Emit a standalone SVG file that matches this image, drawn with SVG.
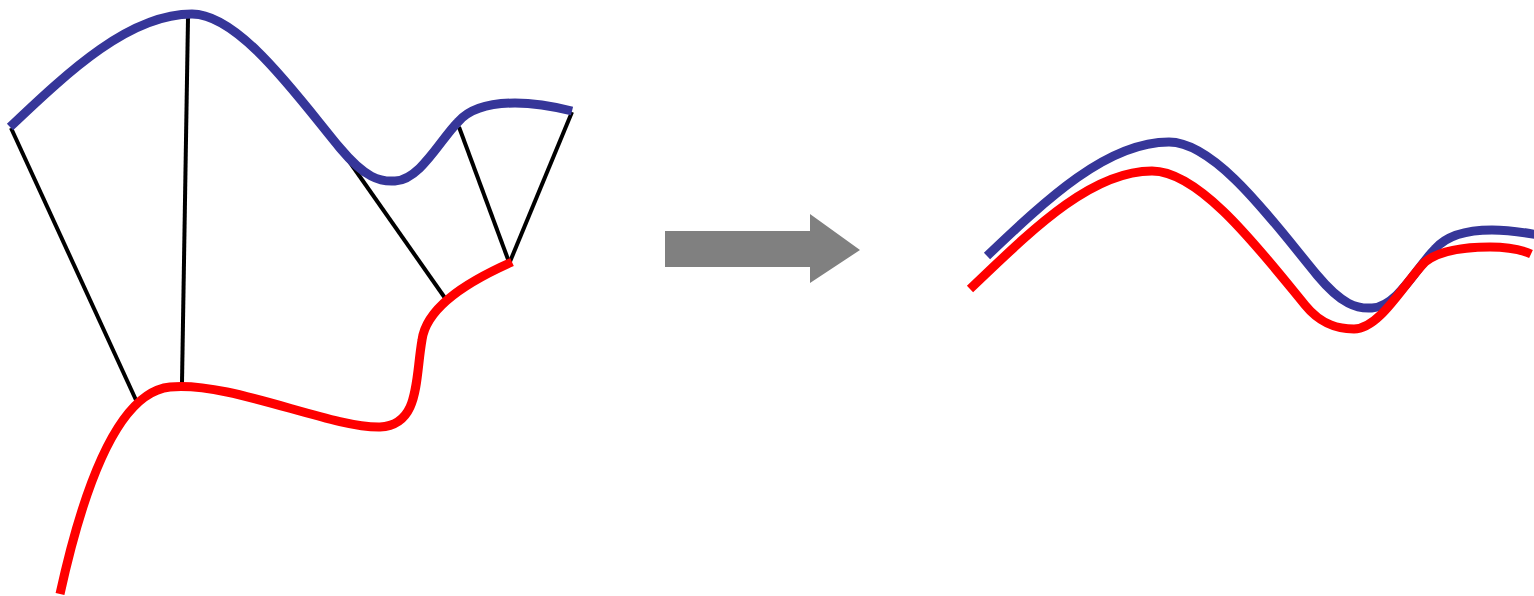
<svg xmlns="http://www.w3.org/2000/svg" width="1534" height="596" viewBox="0 0 1534 596">
<style>
.blue{fill:none;stroke:#363699;stroke-width:9;stroke-linecap:butt;stroke-linejoin:round}
.red{fill:none;stroke:#ff0000;stroke-width:9;stroke-linecap:butt;stroke-linejoin:round}
.link{stroke:#000;stroke-width:4;fill:none}
.arrow{fill:#808080}
</style>
<rect width="1534" height="596" fill="#fff"/>
<g id="connectors">
<line class="link" x1="11" y1="128" x2="136" y2="400"/>
<line class="link" x1="188" y1="18" x2="182" y2="383"/>
<line class="link" x1="337" y1="144" x2="445" y2="298"/>
<line class="link" x1="459" y1="127" x2="509" y2="262"/>
<line class="link" x1="572" y1="112" x2="509" y2="264"/>
</g>
<g id="source-blue">
<path class="blue" d="M10,127 C70,70 130,14 192,14 C240,14 300,100 340,148 C365,178 380,182 395,181 C420,180 440,140 458,122 C470,108 490,103 515,103 C540,103 560,108 572,111"/>
</g>
<g id="source-red">
<path class="red" d="M60,594 C85,480 120,392 170,387 C230,381 330,428 380,427 C420,425 415,380 422,340 C426,310 460,285 512,262"/>
</g>
<g id="arrow">
<polygon class="arrow" points="665,231 810,231 810,214 860,250 810,283 810,267 665,267"/>
</g>
<g id="result-blue">
<path class="blue" d="M987,256 C1047,199 1107,142 1169,142 C1217,142 1277,227 1317,275 C1342,305 1357,309 1372,308 C1397,307 1417,267 1435,249 C1447,235 1467,230 1492,230 C1517,230 1537,235 1549,237"/>
</g>
<g id="result-red">
<path class="red" d="M970,289 C1030,232 1090,171 1152,171 C1200,171 1260,250 1305,305 C1322,326 1340,329 1354,329 C1380,329 1405,282 1425,262 C1440,250 1465,247 1490,247 C1505,247 1520,249 1531,254"/>
</g>
</svg>
